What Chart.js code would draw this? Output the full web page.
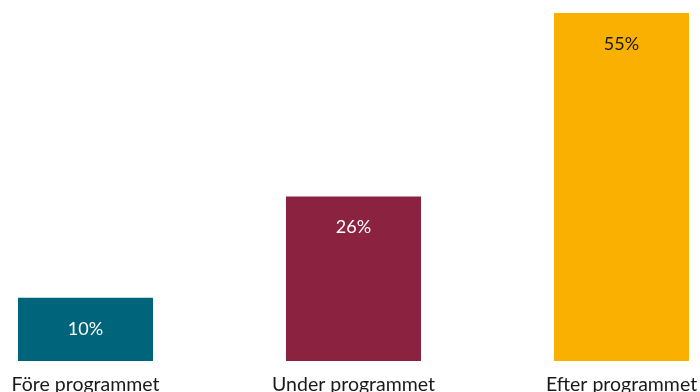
<!DOCTYPE html>
<html>
<head>
<meta charset="utf-8">
<script src="https://cdn.jsdelivr.net/npm/chart.js@4"></script>
<style>
html,body{margin:0;padding:0;background:#fff;}
#wrap{width:700px;height:392px;position:relative;}
</style>
</head>
<body>
<div id="wrap"><canvas id="c"></canvas></div>
<script>
const categories = ['Före programmet', 'Under programmet', 'Efter programmet'];
const values = [10, 26, 55];
const valueLabels = ['10%', '26%', '55%'];
const barColors = ['#00657A', '#8B2340', '#F9B000'];
const labelColors = ['#ffffff', '#ffffff', '#1a1a1a'];

const FONT = 'Lato';

const valueLabelPlugin = {
  id: 'valueLabels',
  afterDatasetsDraw(chart) {
    const ctx = chart.ctx;
    const meta = chart.getDatasetMeta(0);
    ctx.save();
    ctx.font = '18px ' + FONT;
    ctx.textAlign = 'center';
    ctx.textBaseline = 'middle';
    meta.data.forEach((bar, i) => {
      ctx.fillStyle = labelColors[i];
      ctx.fillText(valueLabels[i], bar.x, bar.y + 31);
    });
    ctx.restore();
  }
};

new Chart(document.getElementById('c'), {
  type: 'bar',
  data: {
    datasets: [{
      data: values.map((v, i) => ({x: i, y: v})),
      backgroundColor: barColors,
      borderWidth: 0,
      categoryPercentage: 1,
      barPercentage: 135 / 268
    }]
  },
  options: {
    responsive: true,
    maintainAspectRatio: false,
    animation: false,
    layout: {padding: {top: 13, left: 0, right: 0, bottom: 0}},
    plugins: {legend: {display: false}, tooltip: {enabled: false}},
    scales: {
      x: {
        type: 'linear',
        offset: false,
        min: -85.5 / 268,
        max: 2 + 78.5 / 268,
        grid: {display: false, drawTicks: false},
        border: {display: false},
        ticks: {
          stepSize: 1,
          includeBounds: false,
          autoSkip: false,
          maxRotation: 0,
          padding: 12,
          color: '#1a1a1a',
          font: {family: FONT, size: 19.5},
          callback: (v) => Number.isInteger(v) && categories[v] !== undefined ? categories[v] : ''
        },
        afterFit(scale) { scale.height = 31; scale.paddingLeft = 0; scale.paddingRight = 0; }
      },
      y: {
        display: false,
        min: 0,
        max: 55
      }
    }
  },
  plugins: [valueLabelPlugin]
});
</script>
</body>
</html>
